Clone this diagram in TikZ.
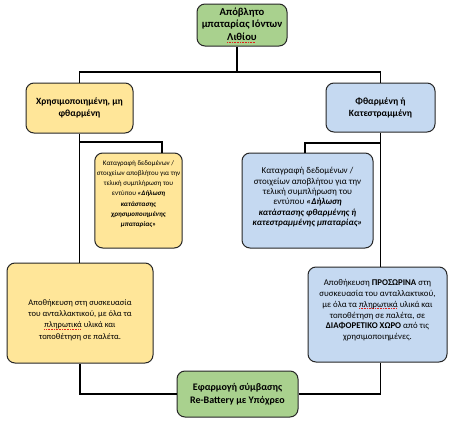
\documentclass[tikz,border=0pt]{standalone}
\usepackage{fontspec}
\setmainfont{Carlito}
\usepackage{xcolor}
\definecolor{LeafGreen}{HTML}{A9D18E}
\definecolor{Butter}{HTML}{FFE699}
\definecolor{Sky}{HTML}{C5D9F1}
\definecolor{Outline}{HTML}{262626}
\definecolor{SpellRed}{HTML}{E0201B}
% red spell-check mark under a word
\newsavebox\spellbox
\newcommand\spellmark[1]{\sbox\spellbox{#1}%
  \makebox[0pt][l]{\textcolor{SpellRed}{\leaders\hbox{\rule[-1.8pt]{1pt}{0.5pt}\kern0.6pt}\hskip\wd\spellbox}}#1}
\tikzset{
    every node/.style={font=\fontsize{8}{10}\selectfont},
    flowbox/.style={
        draw=Outline, fill=#1, line width=1pt,
        rounded corners=8pt, align=center, inner sep=2pt,
        text=black
    },
    flowline/.style={
        line width=1.4pt, color=black
    },
}
\begin{document}
\begin{tikzpicture}[x=1pt,y=-1pt]
    \useasboundingbox (0,0) rectangle (459,432);

    % Top: waste type
    \node[flowbox=LeafGreen, minimum width=90pt, minimum height=42pt,
          font=\bfseries\fontsize{10.6}{12.5}\selectfont] (waste) at (242,25)
        {Απόβλητο\\μπαταρίας Ιόντων\\\spellmark{Λιθίου}};

    % Two categories
    \node[flowbox=Butter, minimum width=107pt, minimum height=50pt,
          font=\bfseries\fontsize{9.5}{12}\selectfont] (used) at (79.5,108)
        {Χρησιμοποιημένη, μη\\φθαρμένη};
    \node[flowbox=Sky, minimum width=109pt, minimum height=49pt,
          font=\bfseries\fontsize{9.5}{12}\selectfont] (damaged) at (380.5,107.5)
        {Φθαρμένη ή\\Κατεστραμμένη};

    % Recording of data
    \node[flowbox=Butter, minimum width=87pt, minimum height=95pt,
          font=\fontsize{7}{10.2}\selectfont] (usedrec) at (138.5,200.5)
        {Καταγραφή δεδομένων /\\στοιχείων αποβλήτου για την\\τελική συμπλήρωση του\\
         εντύπου \textbf{\textit{«Δήλωση}}\\\textbf{\textit{κατάστασης}}\\
         \textbf{\textit{χρησιμοποιημένης}}\\\textbf{\textit{μπαταρίας»}}\rule[-14pt]{0pt}{14pt}};
    \node[flowbox=Sky, minimum width=131pt, minimum height=95pt,
          font=\fontsize{9}{10.4}\selectfont] (damagedrec) at (307.5,200.5)
        {Καταγραφή δεδομένων /\\στοιχείων αποβλήτου για την\\τελική συμπλήρωση του\\
         εντύπου \textbf{\textit{«Δήλωση}}\\\textbf{\textit{κατάστασης φθαρμένης ή}}\\
         \textbf{\textit{κατεστραμμένης μπαταρίας»}}\rule[-8pt]{0pt}{8pt}};

    % Storage
    \node[flowbox=Butter, minimum width=146pt, minimum height=100pt,
          font=\fontsize{8.5}{11.3}\selectfont] (usedstore) at (80,313)
        {\rule{0pt}{20pt}Αποθήκευση στη συσκευασία\\του ανταλλακτικού, με όλα τα\\
         \spellmark{πληρωτικά} υλικά και\\τοποθέτηση σε παλέτα.};
    \node[flowbox=Sky, minimum width=139pt, minimum height=95pt,
          font=\fontsize{8.8}{10.9}\selectfont] (damagedstore) at (377.5,314.5)
        {Αποθήκευση \textbf{ΠΡΟΣΩΡΙΝΑ} στη\\συσκευασία του ανταλλακτικού,\\
         με όλα τα \spellmark{πληρωτικά} υλικά και\\τοποθέτηση σε παλέτα, σε\\
         \textbf{ΔΙΑΦΟΡΕΤΙΚΟ ΧΩΡΟ} από τις\\χρησιμοποιημένες.\rule[-10pt]{0pt}{10pt}};

    % Contract
    \node[flowbox=LeafGreen, minimum width=121pt, minimum height=46pt,
          font=\bfseries\fontsize{10}{12.7}\selectfont] (contract) at (237.5,394)
        {Εφαρμογή σύμβασης\\Re-Battery με Υπόχρεο};

    % Connectors
    \coordinate (split) at (237,72);
    \coordinate (usedfork) at (79.5,142);
    \coordinate (damagedfork) at (380.5,143);
    \draw[flowline] (waste.south -| split) -- (split);
    \draw[flowline] (used.north) |- (split) -| (damaged.north);
    \draw[flowline] (used.south) -- (used.south |- usedstore.north);
    \draw[flowline] (usedfork) -| ([xshift=23.5pt]usedrec.north);
    \draw[flowline] (damaged.south) -- (damaged.south |- damagedstore.north);
    \draw[flowline] (damagedfork) -| ([xshift=-2.5pt]damagedrec.north);
    \draw[flowline] (usedstore.south) |- (contract.west);
    \draw[flowline] (damaged.south |- damagedstore.south) |- (contract.east);
\end{tikzpicture}
\end{document}
